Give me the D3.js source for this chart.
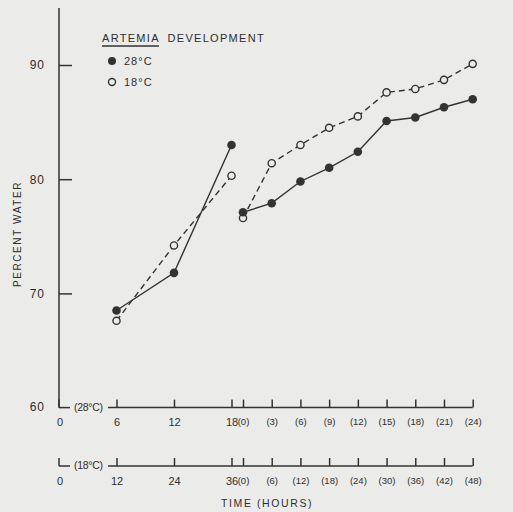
<!DOCTYPE html>
<html><head><meta charset="utf-8">
<script src="https://cdn.jsdelivr.net/npm/d3@7"></script>
<style>
html,body{margin:0;padding:0;background:#ebebe9;}
svg{display:block;}
text{font-family:"Liberation Sans","DejaVu Sans",sans-serif;fill:#2e2e2e;}
</style></head>
<body>
<script>
// ---- data ----
const hours28a = [6, 12, 18];
const water28a = [68.5, 71.8, 83.0];
const hours28b = [0, 3, 6, 9, 12, 15, 18, 21, 24];
const water28b = [77.1, 77.9, 79.8, 81.0, 82.4, 85.1, 85.4, 86.3, 87.0];
const hours18a = [12, 24, 36];
const water18a = [67.6, 74.2, 80.3];
const hours18b = [0, 6, 12, 18, 24, 30, 36, 42, 48];
const water18b = [76.6, 81.4, 83.0, 84.5, 85.5, 87.6, 87.9, 88.7, 90.1];
const yTicks = [60, 70, 80, 90];
const ticks28a = [6, 12, 18];
const ticks28b = [0, 3, 6, 9, 12, 15, 18, 21, 24];
const ticks18a = [12, 24, 36];
const ticks18b = [0, 6, 12, 18, 24, 30, 36, 42, 48];

const W = 513, H = 512;
const svg = d3.select("body").append("svg").attr("width", W).attr("height", H);
const ink = "#333";

const y = d3.scaleLinear().domain([60, 90]).range([407.6, 65]);
const x28a = d3.scaleLinear().domain([0, 18]).range([59, 231.5]);
const x28b = d3.scaleLinear().domain([0, 24]).range([243, 472.7]);
const x18a = d3.scaleLinear().domain([0, 36]).range([59, 231.5]);
const x18b = d3.scaleLinear().domain([0, 48]).range([243, 472.7]);

// y axis
const yAx = svg.append("g").attr("transform", `translate(${x28a(0)},0)`)
  .call(d3.axisLeft(y).tickValues(yTicks.slice(1)).tickSizeInner(-13).tickSizeOuter(0).tickPadding(14));
yAx.select(".domain").remove();
yAx.selectAll("line").attr("stroke", ink).attr("stroke-width", 1.5);
yAx.selectAll("text").attr("font-size", 12).attr("fill", "#2e2e2e").style("letter-spacing", "1px")
   .attr("font-family", "Liberation Sans, sans-serif");
svg.append("line").attr("x1", x28a(0)).attr("x2", x28a(0)).attr("y1", y(60)).attr("y2", y(95))
  .attr("stroke", ink).attr("stroke-width", 1.5);
svg.append("text").attr("x", x28a(0) - 14).attr("y", y(60)).attr("dy", "0.32em")
  .attr("text-anchor", "end").attr("font-size", 12).style("letter-spacing", "1px").text("60");

svg.append("text").attr("transform", `translate(21,${y(75.2)}) rotate(-90)`)
  .attr("text-anchor", "middle").attr("font-size", 10).style("letter-spacing", "1.6px").text("PERCENT WATER");

// x axes
function timeAxis(yPos, xa, xb, ta, tb, lbl) {
  const g = svg.append("g");
  g.append("line").attr("x1", xa(0)).attr("x2", xa(0) + 11).attr("y1", yPos).attr("y2", yPos)
    .attr("stroke", ink).attr("stroke-width", 1.5);
  g.append("line").attr("x1", xa(0)).attr("x2", xa(0)).attr("y1", yPos - 8).attr("y2", yPos)
    .attr("stroke", ink).attr("stroke-width", 1.5);
  g.append("text").attr("x", xa(0) + 15).attr("y", yPos).attr("dy", "0.32em")
    .attr("font-size", 10.5).style("letter-spacing", "-0.3px").text(lbl);
  g.append("line").attr("x1", xa(0) + 49).attr("x2", xb.range()[1]).attr("y1", yPos).attr("y2", yPos)
    .attr("stroke", ink).attr("stroke-width", 1.5);
  const a = g.append("g").attr("transform", `translate(0,${yPos})`)
    .call(d3.axisBottom(xa).tickValues(ta).tickFormat(d3.format("d")).tickSizeInner(-8).tickSizeOuter(0).tickPadding(11));
  a.select(".domain").remove();
  a.selectAll("line").attr("stroke", ink).attr("stroke-width", 1.5);
  a.selectAll("text").attr("font-size", 11).attr("fill", "#2e2e2e").attr("font-family", "Liberation Sans, sans-serif");
  const b = g.append("g").attr("transform", `translate(0,${yPos})`)
    .call(d3.axisBottom(xb).tickValues(tb).tickFormat(d => `(${d})`).tickSizeInner(-8).tickSizeOuter(0).tickPadding(11));
  b.select(".domain").remove();
  b.selectAll("line").attr("stroke", ink).attr("stroke-width", 1.5);
  b.selectAll("text").attr("font-size", 9.5).attr("fill", "#2e2e2e").attr("font-family", "Liberation Sans, sans-serif");
  g.append("text").attr("x", xa(0) + 1).attr("y", yPos + 11).attr("dy", "0.71em")
    .attr("text-anchor", "middle").attr("font-size", 11).text("0");
}
timeAxis(y(60), x28a, x28b, ticks28a, ticks28b, "(28°C)");
timeAxis(466, x18a, x18b, ticks18a, ticks18b, "(18°C)");

svg.append("text").attr("x", 221).attr("y", 507).attr("font-size", 10.5)
  .style("letter-spacing", "1.6px").text("TIME  (HOURS)");

// series
function series(xs, vals, xScale, dashed, filled) {
  const pts = xs.map((h, i) => [xScale(h), y(vals[i])]);
  svg.append("path").attr("d", d3.line()(pts)).attr("fill", "none").attr("stroke", ink)
    .attr("stroke-width", 1.4).attr("stroke-dasharray", dashed ? "6,4" : null);
  svg.selectAll(null).data(pts).enter().append("circle")
    .attr("cx", d => d[0]).attr("cy", d => d[1]).attr("r", filled ? 4.3 : 3.6)
    .attr("fill", filled ? ink : "#ebebe9").attr("stroke", ink).attr("stroke-width", filled ? 0 : 1.4);
}
series(hours18a, water18a, x18a, true, false);
series(hours18b, water18b, x18b, true, false);
series(hours28a, water28a, x28a, false, true);
series(hours28b, water28b, x28b, false, true);

// legend
svg.append("text").attr("x", 102).attr("y", 42).attr("font-size", 11)
  .style("letter-spacing", "1.3px")
  .call(t => { t.append("tspan").text("ARTEMIA"); t.append("tspan").attr("dx", 4).text(" DEVELOPMENT"); });
svg.append("line").attr("x1", 102).attr("x2", 159).attr("y1", 46).attr("y2", 46)
  .attr("stroke", ink).attr("stroke-width", 1.5);
svg.append("circle").attr("cx", 112).attr("cy", 61).attr("r", 4).attr("fill", ink);
svg.append("text").attr("x", 124).attr("y", 65).attr("font-size", 11).style("letter-spacing", "1px").text("28°C");
svg.append("circle").attr("cx", 112).attr("cy", 82).attr("r", 3.5).attr("fill", "none")
  .attr("stroke", ink).attr("stroke-width", 1.4);
svg.append("text").attr("x", 124).attr("y", 86).attr("font-size", 11).style("letter-spacing", "1px").text("18°C");
</script>
</body></html>
